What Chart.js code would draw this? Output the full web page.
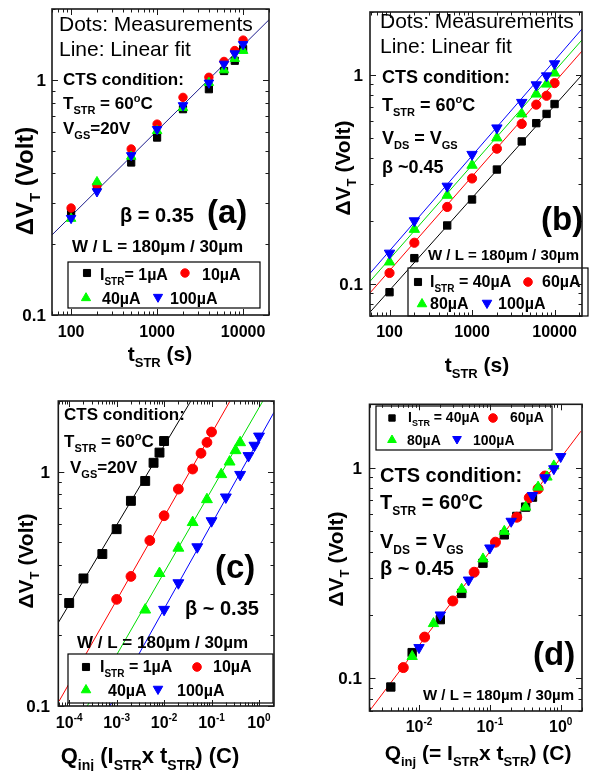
<!DOCTYPE html>
<html><head><meta charset="utf-8">
<script src="https://cdn.jsdelivr.net/npm/chart.js@4.4.0/dist/chart.umd.min.js"></script>
<style>
html,body{margin:0;padding:0;background:#fff;}
#wrap{position:relative;width:589px;height:771px;overflow:hidden;background:#fff;}
canvas{position:absolute;}
</style></head><body>
<div id="wrap">
<canvas id="ca" width="295" height="385" style="left:0;top:0;width:295px;height:385px"></canvas>
<canvas id="cb" width="294" height="385" style="left:295px;top:0;width:294px;height:385px"></canvas>
<canvas id="cc" width="295" height="386" style="left:0;top:385px;width:295px;height:386px"></canvas>
<canvas id="cd" width="294" height="386" style="left:295px;top:385px;width:294px;height:386px"></canvas>
</div>
<script>
// ---------------- DATA ----------------
const stressTimes = [100, 200, 500, 1000, 2000, 4000, 6000, 8000, 10000]; // s

// CTS with VGS = 20 V (panels a, c) : stress currents in µA
const currentsVGS = [1, 10, 40, 100];
const dVT_1uA   = [0.275, 0.350, 0.445, 0.568, 0.750, 0.912, 1.090, 1.205, 1.350];
const dVT_10uA  = [0.285, 0.357, 0.508, 0.648, 0.842, 1.025, 1.197, 1.332, 1.475];
const dVT_40uA  = [0.257, 0.368, 0.472, 0.607, 0.760, 0.972, 1.100, 1.230, 1.330];
const dVT_100uA = [0.258, 0.335, 0.477, 0.616, 0.778, 0.971, 1.168, 1.293, 1.415];

// CTS with VDS = VGS (panels b, d)
const currentsVDS = [40, 60, 80, 100];
const dVTd_40uA  = [0.091, 0.1325, 0.190, 0.253, 0.352, 0.480, 0.587, 0.650, 0.725];
const dVTd_60uA  = [0.1125, 0.157, 0.233, 0.319, 0.443, 0.582, 0.720, 0.794, 0.913];
const dVTd_80uA  = [0.127, 0.182, 0.265, 0.369, 0.499, 0.650, 0.809, 0.903, 1.020];
const dVTd_100uA = [0.140, 0.200, 0.293, 0.416, 0.557, 0.738, 0.896, 0.989, 1.130];

// linear fits (endpoints)
const fitA_x = [60, 20000],        fitA_y = [0.219, 1.80];
const fitB40_x = [58, 21500],      fitB40_y = [0.073, 1.00];
const fitB60_x = [58, 21500],      fitB60_y = [0.0903, 1.30];
const fitB80_x = [58, 21500],      fitB80_y = [0.1026, 1.47];
const fitB100_x = [58, 21500],     fitB100_y = [0.112, 1.66];
const fitC1_x = [6.0e-5, 0.04],    fitC1_y = [0.228, 2.06];
const fitC10_x = [6.15e-5, 0.245], fitC10_y = [0.105, 2.0];
const fitC40_x = [2.4e-4, 1.24],   fitC40_y = [0.100, 2.02];
const fitC100_x = [7.2e-4, 2.07],  fitC100_y = [0.100, 1.79];
const fitD_x = [2.1e-3, 1.93],     fitD_y = [0.0716, 1.49];

// tick labels
const xTicksTime = [100, 1000, 10000];
const yTicksDV = [0.1, 1];
const xTicksExpC = [-4, -3, -2, -1, 0];
const xTicksExpD = [-2, -1, 0];

// ---------------- STYLES ----------------
const FONT = '"Liberation Sans", Arial, Helvetica, sans-serif';
const seriesStyle = [
  {color:'#000000', shape:'rect', rot:0},
  {color:'#ff0000', shape:'circle', rot:0},
  {color:'#00ff00', shape:'triangle', rot:0},
  {color:'#0000ff', shape:'triangle', rot:180}
];

function pts(xs, ys){ return xs.map((x,i)=>({x:x, y:ys[i]})); }

function parseRich(s){
  const out=[]; let i=0, buf='';
  while(i<s.length){
    const c=s[i];
    if((c==='_'||c==='^') && s[i+1]==='{'){
      if(buf){out.push({t:buf,k:'n'});buf='';}
      const j=s.indexOf('}',i);
      out.push({t:s.slice(i+2,j),k:c==='_'?'sub':'sup'});
      i=j+1;
    } else {buf+=c;i++;}
  }
  if(buf) out.push({t:buf,k:'n'});
  return out;
}
function drawRich(ctx, s, x, y, size, weight, align, color){
  const parts=parseRich(s);
  const sub=Math.round(size*0.62);
  const f=k=>`${weight||'bold'} ${k==='n'?size:sub}px ${FONT}`;
  let total=0; const ws=[];
  parts.forEach(p=>{ctx.font=f(p.k); const w=ctx.measureText(p.t).width; ws.push(w); total+=w;});
  let cx = align==='center'? x-total/2 : align==='right'? x-total : x;
  ctx.fillStyle=color||'#000'; ctx.textAlign='left'; ctx.textBaseline='alphabetic';
  parts.forEach((p,i)=>{
    ctx.font=f(p.k);
    const dy = p.k==='sub'? size*0.3 : p.k==='sup'? -size*0.42 : 0;
    ctx.fillText(p.t,cx,y+dy); cx+=ws[i];
  });
}
function drawMarker(ctx, st, x, y, r){
  ctx.save(); ctx.fillStyle=st.color; ctx.strokeStyle=st.color; ctx.lineWidth=1;
  ctx.beginPath();
  if(st.shape==='circle'){ctx.arc(x,y,r,0,Math.PI*2);}
  else if(st.shape==='rect'){const s=Math.SQRT1_2*r; ctx.rect(x-s,y-s,2*s,2*s);}
  else {let a=st.rot*Math.PI/180; for(let k=0;k<3;k++){const px=x+Math.sin(a)*r, py=y-Math.cos(a)*r; if(k) ctx.lineTo(px,py); else ctx.moveTo(px,py); a+=2*Math.PI/3;} ctx.closePath();}
  ctx.fill(); ctx.stroke(); ctx.restore();
}

const decor = {
  id:'decor',
  afterDraw(chart){
    const P=chart.options.plugins.decor;
    const ctx=chart.ctx, a=chart.chartArea, xs=chart.scales.x, ys=chart.scales.y;
    ctx.save();
    if(P.legend){
      const L=P.legend;
      ctx.fillStyle='#fff'; ctx.fillRect(L.box[0],L.box[1],L.box[2]-L.box[0],L.box[3]-L.box[1]);
      ctx.strokeStyle='#000'; ctx.lineWidth=1.2;
      ctx.strokeRect(L.box[0],L.box[1],L.box[2]-L.box[0],L.box[3]-L.box[1]);
      L.items.forEach(it=>{
        drawMarker(ctx, seriesStyle[it.s], it.mx, it.my, P.legendR[seriesStyle[it.s].shape]);
        drawRich(ctx, it.text, it.tx, it.ty, L.size, 'bold', 'left');
      });
    }
    ctx.strokeStyle='#1a1a1a'; ctx.lineWidth=1.6;
    ctx.strokeRect(a.left,a.top,a.right-a.left,a.bottom-a.top);
    ctx.lineWidth=1;
    const tick=(scale,isX)=>{
      const mn=scale.min,mx=scale.max;
      for(let p=Math.floor(Math.log10(mn));p<=Math.ceil(Math.log10(mx));p++){
        for(let m=1;m<=9;m++){
          const v=m*Math.pow(10,p);
          if(v<mn*0.999||v>mx*1.001) continue;
          const q=Math.round(scale.getPixelForValue(v))+0.5;
          const len=m===1?6:3.5;
          ctx.beginPath();
          if(isX){ctx.moveTo(q,a.bottom);ctx.lineTo(q,a.bottom-len);ctx.moveTo(q,a.top);ctx.lineTo(q,a.top+len);}
          else{ctx.moveTo(a.left,q);ctx.lineTo(a.left+len,q);ctx.moveTo(a.right,q);ctx.lineTo(a.right-len,q);}
          ctx.stroke();
        }
      }
    };
    tick(xs,true); tick(ys,false);
    P.xLabels.forEach(l=>{ drawRich(ctx, l.text, xs.getPixelForValue(l.v), P.xLabelY, 16, 'bold', 'center'); });
    P.yLabels.forEach(l=>{ drawRich(ctx, l.text, P.yLabelX, ys.getPixelForValue(l.v)+6, 17, 'bold', 'right'); });
    drawRich(ctx, P.xTitle.text, P.xTitle.x, P.xTitle.y, P.xTitle.size, 'bold', 'center');
    ctx.save(); ctx.translate(P.yTitle.x, P.yTitle.y); ctx.rotate(-Math.PI/2);
    drawRich(ctx, 'ΔV_{T} (Volt)', 0, P.yTitle.size*0.36, P.yTitle.size, 'bold', 'center');
    ctx.restore();
    P.texts.forEach(t=>drawRich(ctx, t[0], t[1], t[2], t[3], t[4]||'bold', 'left'));
    ctx.restore();
  }
};

function makeChart(id, cfg){
  const datasets=[];
  cfg.fits.forEach(f=>datasets.push({data:pts(f.x,f.y), showLine:true, borderColor:f.color, borderWidth:1, pointRadius:0, order:10, clip:0}));
  cfg.series.forEach((ys,i)=>{
    const st=seriesStyle[i];
    datasets.push({data:pts(cfg.x[i],ys), showLine:false, pointStyle:st.shape, rotation:st.rot,
      pointRadius:cfg.r[st.shape], backgroundColor:st.color, borderColor:st.color, borderWidth:1, order:4-i, clip:false});
  });
  return new Chart(document.getElementById(id), {
    type:'scatter',
    data:{datasets},
    options:{
      responsive:false, animation:false, devicePixelRatio:1, events:[],
      layout:{padding:cfg.pad},
      plugins:{legend:{display:false}, tooltip:{enabled:false}, decor:cfg.decor},
      scales:{
        x:{type:'logarithmic', min:cfg.xr[0], max:cfg.xr[1], display:false},
        y:{type:'logarithmic', min:cfg.yr[0], max:cfg.yr[1], display:false}
      }
    },
    plugins:[decor]
  });
}

const qOf = I => stressTimes.map(t=>t*I*1e-6);
const timeLabels = xTicksTime.map(v=>({v, text:String(v)}));
const dvLabels = yTicksDV.map(v=>({v, text:String(v)}));

// (a)
makeChart('ca', {
  pad:{left:52,top:9,right:26,bottom:70}, xr:[60,20000], yr:[0.1,2],
  x:[stressTimes,stressTimes,stressTimes,stressTimes],
  series:[dVT_1uA,dVT_10uA,dVT_40uA,dVT_100uA],
  r:{rect:5.1, circle:4.2, triangle:5.5},
  fits:[{x:fitA_x,y:fitA_y,color:'#1c1c8c'}],
  decor:{
    xLabels:timeLabels, xLabelY:337, yLabels:dvLabels, yLabelX:46,
    xTitle:{text:'t_{STR} (s)', x:160, y:361, size:21},
    yTitle:{x:24, y:181, size:24},
    legendR:{rect:5, circle:4.2, triangle:5.3},
    legend:{box:[68,262,260,308], size:16, items:[
      {s:0,mx:87,my:273,text:'I_{STR}= 1µA',tx:100,ty:280},
      {s:1,mx:185,my:273,text:'10µA',tx:202,ty:280},
      {s:2,mx:86,my:298,text:'40µA',tx:102,ty:304},
      {s:3,mx:158,my:297,text:'100µA',tx:170,ty:304}]},
    texts:[
      ['Dots: Measurements',59,31,21,'normal'],
      ['Line: Linear fit',59,56,21,'normal'],
      ['CTS condition:',63,85,17],
      ['T_{STR} = 60^{o}C',63,109,17],
      ['V_{GS}=20V',63,134,17],
      ['β = 0.35',120,222,20],
      ['(a)',207,223,33],
      ['W / L = 180µm / 30µm',72,252,17]
    ]
  }
});

// (b)
makeChart('cb', {
  pad:{left:75,top:12,right:1.3,bottom:69}, xr:[58,21500], yr:[0.07,2],
  x:[stressTimes,stressTimes,stressTimes,stressTimes],
  series:[dVTd_40uA,dVTd_60uA,dVTd_80uA,dVTd_100uA],
  r:{rect:5.2, circle:4.6, triangle:6},
  fits:[{x:fitB40_x,y:fitB40_y,color:'#000'},{x:fitB60_x,y:fitB60_y,color:'#ff0000'},
        {x:fitB80_x,y:fitB80_y,color:'#00dd00'},{x:fitB100_x,y:fitB100_y,color:'#0000ff'}],
  decor:{
    xLabels:timeLabels, xLabelY:337, yLabels:dvLabels, yLabelX:68,
    xTitle:{text:'t_{STR} (s)', x:182, y:372, size:21},
    yTitle:{x:47, y:168, size:21},
    legendR:{rect:5, circle:4.3, triangle:5.5},
    legend:{box:[113,268,293,316], size:16, items:[
      {s:0,mx:123,my:282,text:'I_{STR} = 40µA',tx:135,ty:287},
      {s:1,mx:233,my:282,text:'60µA',tx:247,ty:287},
      {s:2,mx:127,my:304,text:'80µA',tx:135,ty:309},
      {s:3,mx:192,my:303,text:'100µA',tx:203,ty:309}]},
    texts:[
      ['Dots: Measurements',85,28,21,'normal'],
      ['Line: Linear fit',85,53,21,'normal'],
      ['CTS condition:',87,83,18],
      ['T_{STR} = 60^{o}C',87,111,18],
      ['V_{DS} = V_{GS}',87,144,18],
      ['β ~0.45',87,173,18],
      ['(b)',246,230,33],
      ['W / L = 180µm / 30µm',133,260,15]
    ]
  }
});

// (c)
makeChart('cc', {
  pad:{left:58.3,top:16,right:21,bottom:65}, xr:[5.9e-5,2.07], yr:[0.1,2],
  x:currentsVGS.map(qOf),
  series:[dVT_1uA,dVT_10uA,dVT_40uA,dVT_100uA],
  r:{rect:6.3, circle:4.9, triangle:6.3},
  fits:[{x:fitC1_x,y:fitC1_y,color:'#000'},{x:fitC10_x,y:fitC10_y,color:'#ff0000'},
        {x:fitC40_x,y:fitC40_y,color:'#00dd00'},{x:fitC100_x,y:fitC100_y,color:'#0000ff'}],
  decor:{
    xLabels:xTicksExpC.map(e=>({v:Math.pow(10,e), text:'10^{'+e+'}'})), xLabelY:343, yLabels:dvLabels, yLabelX:50,
    xTitle:{text:'Q_{inj} (I_{STR}x t_{STR}) (C)', x:150, y:378, size:22},
    yTitle:{x:25, y:176, size:21},
    legendR:{rect:5, circle:4.3, triangle:5.5},
    legend:{box:[68,269,273,318], size:16, items:[
      {s:0,mx:86,my:282,text:'I_{STR} = 1µA',tx:100,ty:287},
      {s:1,mx:197,my:282,text:'10µA',tx:213,ty:287},
      {s:2,mx:86,my:305,text:'40µA',tx:108,ty:311},
      {s:3,mx:158,my:304,text:'100µA',tx:177,ty:311}]},
    texts:[
      ['CTS condition:',64,35,17],
      ['T_{STR} = 60^{o}C',64,62,17],
      ['V_{GS}=20V',70,88,17],
      ['(c)',215,193,33],
      ['β ~ 0.35',185,230,20],
      ['W / L = 180µm / 30µm',77,263,17]
    ]
  }
});

// (d)
makeChart('cd', {
  pad:{left:74.5,top:19.3,right:5.5,bottom:60}, xr:[2e-3,2], yr:[0.07,2],
  x:currentsVDS.map(qOf),
  series:[dVTd_40uA,dVTd_60uA,dVTd_80uA,dVTd_100uA],
  r:{rect:5.9, circle:5, triangle:6},
  fits:[{x:fitD_x,y:fitD_y,color:'#ff0000'}],
  decor:{
    xLabels:xTicksExpD.map(e=>({v:Math.pow(10,e), text:'10^{'+e+'}'})), xLabelY:347, yLabels:dvLabels, yLabelX:67,
    xTitle:{text:'Q_{inj} (= I_{STR}x t_{STR}) (C)', x:183, y:375, size:21},
    yTitle:{x:40, y:174, size:21},
    legendR:{rect:4.5, circle:4.3, triangle:5},
    legend:{box:[81,21,257,65], size:14, items:[
      {s:0,mx:97,my:33,text:'I_{STR} = 40µA',tx:113,ty:37},
      {s:1,mx:198,my:33,text:'60µA',tx:215,ty:37},
      {s:2,mx:97,my:55,text:'80µA',tx:112,ty:60},
      {s:3,mx:162,my:54,text:'100µA',tx:178,ty:60}]},
    texts:[
      ['CTS condition:',85,97,20],
      ['T_{STR} = 60^{o}C',85,124,20],
      ['V_{DS} = V_{GS}',85,163,20],
      ['β ~ 0.45',85,190,20],
      ['(d)',238,280,33],
      ['W / L = 180µm / 30µm',128,315,15]
    ]
  }
});
</script>
</body></html>
